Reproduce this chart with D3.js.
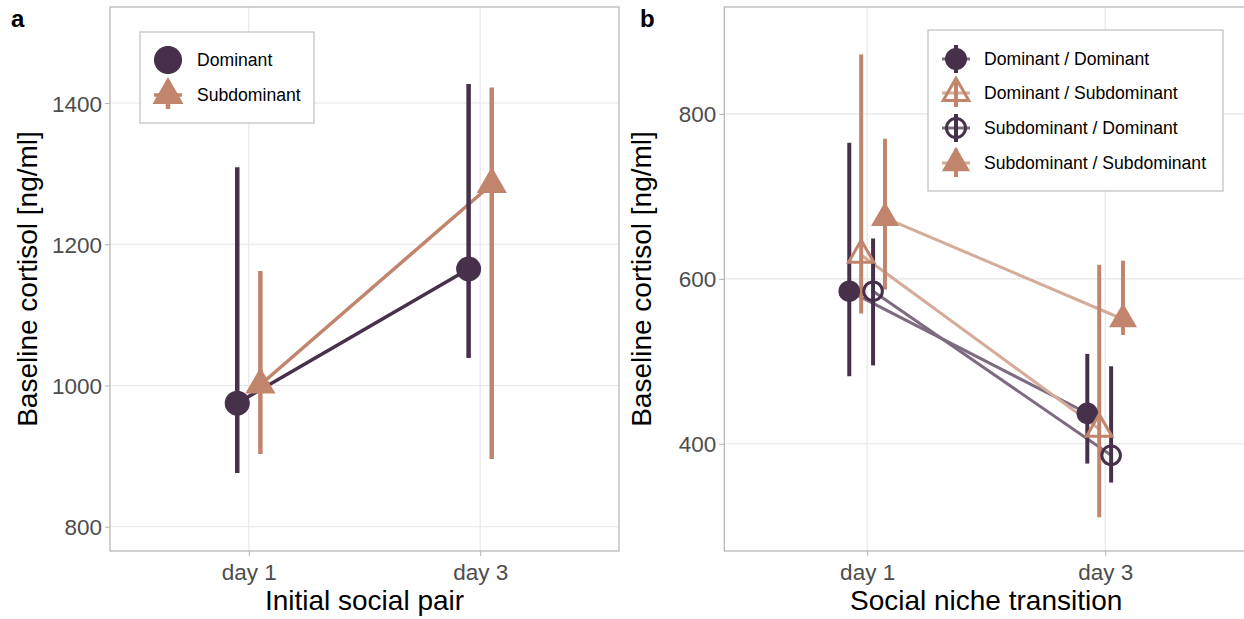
<!DOCTYPE html>
<html>
<head>
<meta charset="utf-8">
<script src="https://cdn.jsdelivr.net/npm/d3@7"></script>
<style>
  body { margin: 0; background: #fff; }
  svg { display: block; font-family: "Liberation Sans", Arial, sans-serif; }
</style>
</head>
<body>
<svg></svg>
<script>
const width = 1244;
const height = 619;

// ---- data ----
const days = ['day 1', 'day 3'];

// panel a: initial social pair
const pairGroups = ['Dominant', 'Subdominant'];
const pairDomMean = [975, 1165];
const pairDomLow = [876, 1039];
const pairDomHigh = [1309, 1427];
const pairSubMean = [1001, 1285];
const pairSubLow = [903, 896];
const pairSubHigh = [1162, 1422];
const pairTicks = [800, 1000, 1200, 1400];

// panel b: social niche transition
const nicheGroups = ['Dominant / Dominant', 'Dominant / Subdominant', 'Subdominant / Dominant', 'Subdominant / Subdominant'];
const nicheDDMean = [585, 437];
const nicheDDLow = [482, 376];
const nicheDDHigh = [765, 509];
const nicheDSMean = [629, 418];
const nicheDSLow = [558, 311];
const nicheDSHigh = [872, 617];
const nicheSDMean = [585, 386];
const nicheSDLow = [495, 353];
const nicheSDHigh = [649, 494];
const nicheSSMean = [674, 551];
const nicheSSLow = [587, 532];
const nicheSSHigh = [770, 622];
const nicheTicks = [400, 600, 800];

const dark = '#46304a';
const tan = '#c1856d';
const darkLine = '#7d6c80';
const tanLine = '#d5ab9a';

const svg = d3.select('svg')
    .attr('width', width)
    .attr('height', height);

// R style triangle (pch 2 / 17), centred on its centroid
const triPath = k => {
    const r = 1.5551 * k, yc = 0.7776 * k, xc = 1.3468 * k;
    return `M0,${-r}L${xc},${yc}L${-xc},${yc}Z`;
};

const drawShape = (sel, shape, color, size) => {
    if (shape === 'circle') {
        sel.append('circle').attr('r', size).attr('fill', color);
    } else if (shape === 'ocircle') {
        sel.append('circle').attr('r', size - 1.5).attr('fill', 'none')
            .attr('stroke', color).attr('stroke-width', 3);
    } else if (shape === 'tri') {
        sel.append('path').attr('d', triPath(size)).attr('fill', color);
    } else {
        sel.append('path').attr('d', triPath(size - 1)).attr('fill', 'none')
            .attr('stroke', color).attr('stroke-width', 3).attr('stroke-linejoin', 'miter');
    }
};

const panel = (opts) => {
    const g = svg.append('g');
    const x = d3.scalePoint().domain(days).range([opts.left, opts.right]).padding(0.6);
    const y = d3.scaleLinear().domain(opts.yDomain).range([551, 7]);
    const step = x.step();

    const clipId = 'clip' + opts.label;
    svg.append('clipPath').attr('id', clipId)
        .append('rect').attr('x', opts.left).attr('y', 7)
        .attr('width', opts.right - opts.left).attr('height', 544);

    // grid
    g.selectAll('.hg').data(opts.ticks).enter().append('line')
        .attr('x1', opts.left).attr('x2', opts.right)
        .attr('y1', d => y(d)).attr('y2', d => y(d))
        .attr('stroke', '#e6e6e6').attr('stroke-width', 1.1);
    g.selectAll('.vg').data(days).enter().append('line')
        .attr('x1', d => x(d)).attr('x2', d => x(d))
        .attr('y1', 7).attr('y2', 551)
        .attr('stroke', '#e6e6e6').attr('stroke-width', 1.1);

    // axes ticks
    const yAxis = g.append('g').attr('transform', `translate(${opts.left},0)`)
        .call(d3.axisLeft(y).tickValues(opts.ticks).tickSize(5).tickPadding(3).tickFormat(d3.format('d')));
    const xAxis = g.append('g').attr('transform', 'translate(0,551)')
        .call(d3.axisBottom(x).tickSize(5).tickPadding(3));
    [yAxis, xAxis].forEach(a => {
        a.select('.domain').remove();
        a.selectAll('.tick line').attr('stroke', '#b3b3b3');
        a.selectAll('.tick text').attr('fill', '#4d4d4d')
            .style('font-size', '22.5px').style('font-family', '"Liberation Sans", Arial, sans-serif');
    });
    xAxis.selectAll('.tick text').attr('dy', '0.95em');
    yAxis.selectAll('.tick text').attr('dy', '0.36em');

    // panel border
    g.append('rect').attr('x', opts.left).attr('y', 7)
        .attr('width', opts.right - opts.left).attr('height', 544)
        .attr('fill', 'none').attr('stroke', '#b3b3b3').attr('stroke-width', 1.2);

    const data = g.append('g').attr('clip-path', `url(#${clipId})`);
    const n = opts.series.length;
    const off = i => (i - (n - 1) / 2) * opts.dodge * step;

    // lines
    opts.series.forEach((s, i) => {
        const line = d3.line().x((d, j) => x(days[j]) + off(i)).y(d => y(d));
        data.append('path').datum(s.mean)
            .attr('d', line).attr('fill', 'none')
            .attr('stroke', s.line).attr('stroke-width', opts.lineWidth);
    });
    // error bars
    opts.series.forEach((s, i) => {
        data.selectAll(null).data(days).enter().append('line')
            .attr('x1', d => x(d) + off(i)).attr('x2', d => x(d) + off(i))
            .attr('y1', (d, j) => y(s.low[j])).attr('y2', (d, j) => y(s.high[j]))
            .attr('stroke', s.color).attr('stroke-width', opts.barWidth);
    });
    // points
    opts.series.forEach((s, i) => {
        days.forEach((d, j) => {
            const p = data.append('g')
                .attr('transform', `translate(${x(d) + off(i)},${y(s.mean[j])})`);
            drawShape(p, s.shape, s.color, s.shape.includes('circle') ? opts.circleR : opts.triK);
        });
    });

    // titles
    svg.append('text')
        .attr('x', (opts.left + opts.right) / 2)
        .attr('y', 610).attr('text-anchor', 'middle')
        .style('font-size', '28px').attr('fill', '#000')
        .text(opts.xTitle);
    svg.append('text')
        .attr('transform', `translate(${opts.left - 73},279) rotate(-90)`)
        .attr('text-anchor', 'middle')
        .style('font-size', '28px').attr('fill', '#000')
        .text('Baseline cortisol [ng/ml]');
    svg.append('text')
        .attr('x', opts.labelX).attr('y', 27)
        .style('font-size', '24px').style('font-weight', 'bold')
        .text(opts.label);

    // legend
    const lg = svg.append('g');
    lg.append('rect').attr('x', opts.legend.x).attr('y', opts.legend.y)
        .attr('width', opts.legend.w).attr('height', opts.legend.h)
        .attr('fill', '#fff').attr('stroke', '#bfbfbf').attr('stroke-width', 1.2);
    opts.series.forEach((s, i) => {
        const cy = opts.legend.rowY[i];
        const kx = opts.legend.keyX;
        const k = lg.append('g').attr('transform', `translate(${kx},${cy})`);
        k.append('line').attr('x1', -14).attr('x2', 14).attr('y1', 0).attr('y2', 0)
            .attr('stroke', s.line).attr('stroke-width', opts.lineWidth);
        k.append('line').attr('x1', 0).attr('x2', 0).attr('y1', -14).attr('y2', 14)
            .attr('stroke', s.color).attr('stroke-width', opts.barWidth);
        drawShape(k, s.shape, s.color, s.shape.includes('circle') ? opts.legend.circleR : opts.legend.triK);
        lg.append('text').attr('x', opts.legend.textX).attr('y', cy).attr('dy', '0.36em')
            .style('font-size', '17.6px').attr('fill', '#000').text(s.name);
    });
};

panel({
    label: 'a', labelX: 11,
    left: 110, right: 619,
    yDomain: [765.6, 1536],
    ticks: pairTicks,
    dodge: 0.1,
    lineWidth: 3.5, barWidth: 4.5,
    circleR: 12.5, triK: 11.2,
    xTitle: 'Initial social pair',
    series: [
        {name: pairGroups[0], mean: pairDomMean, low: pairDomLow, high: pairDomHigh, color: dark, line: dark, shape: 'circle'},
        {name: pairGroups[1], mean: pairSubMean, low: pairSubLow, high: pairSubHigh, color: tan, line: tan, shape: 'tri'}
    ],
    legend: {x: 140, y: 32, w: 174, h: 91, keyX: 168, textX: 197, rowY: [60, 95], circleR: 14, triK: 11.5}
});

panel({
    label: 'b', labelX: 640,
    left: 724.3, right: 1248,
    yDomain: [270, 929.6],
    ticks: nicheTicks,
    dodge: 0.05,
    lineWidth: 3, barWidth: 4,
    circleR: 10.8, triK: 10.4,
    xTitle: 'Social niche transition',
    series: [
        {name: nicheGroups[0], mean: nicheDDMean, low: nicheDDLow, high: nicheDDHigh, color: dark, line: darkLine, shape: 'circle'},
        {name: nicheGroups[1], mean: nicheDSMean, low: nicheDSLow, high: nicheDSHigh, color: tan, line: tanLine, shape: 'otri'},
        {name: nicheGroups[2], mean: nicheSDMean, low: nicheSDLow, high: nicheSDHigh, color: dark, line: darkLine, shape: 'ocircle'},
        {name: nicheGroups[3], mean: nicheSSMean, low: nicheSSLow, high: nicheSSHigh, color: tan, line: tanLine, shape: 'tri'}
    ],
    legend: {x: 928, y: 30, w: 295, h: 161, keyX: 956, textX: 984, rowY: [59, 93, 128, 163], circleR: 11, triK: 10.5}
});
</script>
</body>
</html>
